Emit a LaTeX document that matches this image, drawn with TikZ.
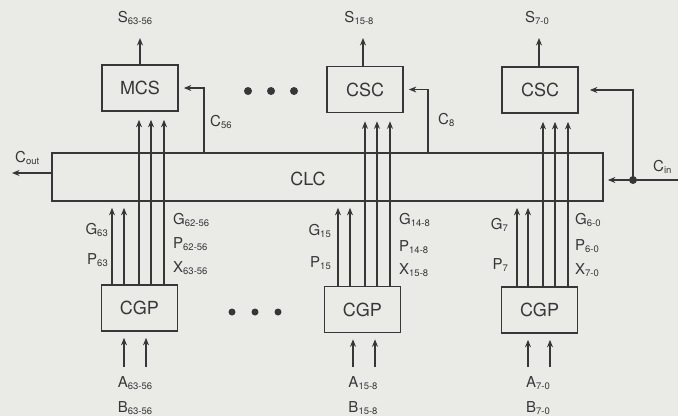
\documentclass[tikz,border=0pt]{standalone}
\usepackage{fontspec}
\setmainfont{TeX Gyre Heros}
\usetikzlibrary{arrows.meta}
\definecolor{bg}{RGB}{234,234,231}
\definecolor{ink}{RGB}{55,55,55}
\newcommand{\sig}[2]{#1\raisebox{-0.35ex}{\fontsize{9.5}{10}\selectfont #2}}
\begin{document}
\begin{tikzpicture}[x=1pt,y=-1pt,
  box/.style={draw=ink, line width=1.7pt, minimum width=76pt, minimum height=46pt, inner sep=0pt, font=\fontsize{18}{20}\selectfont, text=ink},
  arr/.style={draw=ink, line width=1.3pt, -{Stealth[length=7.5pt,width=6pt]}},
  lab/.style={inner sep=0pt, font=\fontsize{15}{17}\selectfont, text=ink},
  bigdot/.style={circle, fill=ink, inner sep=0pt, minimum size=8pt}]
\fill[bg] (0,0) rectangle (678,416);
\useasboundingbox (0,0) rectangle (678,416);
% boxes
\node[box] (mcs) at (140,88) {MCS};
\node[box] (csc1) at (365,89.5) {CSC};
\node[box] (csc2) at (540,90) {CSC};
\node[box, minimum width=551pt, minimum height=48pt] (clc) at (327.5,177) {};
\node[lab, font=\fontsize{18}{20}\selectfont] (clclab) at (308,179) {CLC};
\node[box] (cgp1) at (139.5,308) {CGP};
\node[box] (cgp2) at (362.5,309.5) {CGP};
\node[box] (cgp3) at (539.5,310) {CGP};
% dots
\node[bigdot] (t1) at (248,91) {};
\node[bigdot] (t2) at (271,91) {};
\node[bigdot] (t3) at (294,91) {};
\node[bigdot, minimum size=7pt] (b1) at (232,312) {};
\node[bigdot, minimum size=7pt] (b2) at (255,312) {};
\node[bigdot, minimum size=7pt] (b3) at (278,312) {};
% S outputs
\node[lab] (s1) at (135,18) {\sig{S}{63-56}};
\node[lab] (s2) at (359,18) {\sig{S}{15-8}};
\node[lab] (s3) at (537,18) {\sig{S}{7-0}};
\draw[arr] (mcs.north) -- (mcs.north |- 0,38);
\draw[arr] (363,0 |- csc1.north) -- (363,38);
\draw[arr] (539,0 |- csc2.north) -- (539,38);
% carries
\draw[arr, shorten >=5pt] (204,0 |- clc.north) |- (mcs.east);
\node[lab, anchor=west] (c56) at (210,122) {\sig{C}{56}};
\draw[arr, shorten >=5pt] (428,0 |- clc.north) |- (csc1.east);
\node[lab, anchor=west] (c8) at (438,120) {\sig{C}{8}};
\draw[arr] (clc.west |- 0,173) -- (12,173);
\node[lab, anchor=west] (cout) at (15,158) {\sig{C}{out}};
\coordinate (cin) at (678,180);
\node[bigdot] (cd) at (633,180) {};
\draw[arr, shorten >=4pt] (cin) -- (clc.east |- cin);
\draw[arr, shorten >=11pt] (cd.center) |- (csc2.east);
\node[lab, anchor=west] (cinl) at (653,167) {\sig{C}{in}};
% column 1 wires
\draw[arr, shorten >=6pt] (112,0 |- cgp1.north) -- (112,0 |- clc.south);
\draw[arr, shorten >=6pt] (124,0 |- cgp1.north) -- (124,0 |- clc.south);
\draw[arr, shorten >=8pt] (139,0 |- cgp1.north) -- (139,0 |- mcs.south);
\draw[arr, shorten >=8pt] (151,0 |- cgp1.north) -- (151,0 |- mcs.south);
\draw[arr, shorten >=8pt] (164,0 |- cgp1.north) -- (164,0 |- mcs.south);
% column 2 wires
\draw[arr, shorten >=6pt] (338,0 |- cgp2.north) -- (338,0 |- clc.south);
\draw[arr, shorten >=6pt] (350,0 |- cgp2.north) -- (350,0 |- clc.south);
\draw[arr, shorten >=8pt] (365,0 |- cgp2.north) -- (365,0 |- csc1.south);
\draw[arr, shorten >=8pt] (377,0 |- cgp2.north) -- (377,0 |- csc1.south);
\draw[arr, shorten >=8pt] (390,0 |- cgp2.north) -- (390,0 |- csc1.south);
% column 3 wires
\draw[arr, shorten >=6pt] (517,0 |- cgp3.north) -- (517,0 |- clc.south);
\draw[arr, shorten >=6pt] (528,0 |- cgp3.north) -- (528,0 |- clc.south);
\draw[arr, shorten >=8pt] (543,0 |- cgp3.north) -- (543,0 |- csc2.south);
\draw[arr, shorten >=8pt] (555,0 |- cgp3.north) -- (555,0 |- csc2.south);
\draw[arr, shorten >=8pt] (568,0 |- cgp3.north) -- (568,0 |- csc2.south);
% wire labels
\node[lab, anchor=east] (g63) at (108,230) {\sig{G}{63}};
\node[lab, anchor=east] (p63) at (108,260) {\sig{P}{63}};
\node[lab, anchor=west] (g6256) at (173,220) {\sig{G}{62-56}};
\node[lab, anchor=west] (p6256) at (173,244) {\sig{P}{62-56}};
\node[lab, anchor=west] (x6356) at (173,268) {\sig{X}{63-56}};
\node[lab, anchor=east] (g15) at (331,231) {\sig{G}{15}};
\node[lab, anchor=east] (p15) at (331,263) {\sig{P}{15}};
\node[lab, anchor=west] (g148) at (399,220) {\sig{G}{14-8}};
\node[lab, anchor=west] (p148) at (399,247) {\sig{P}{14-8}};
\node[lab, anchor=west] (x158) at (399,270) {\sig{X}{15-8}};
\node[lab, anchor=east] (g7) at (508,225) {\sig{G}{7}};
\node[lab, anchor=east] (p7) at (508,265) {\sig{P}{7}};
\node[lab, anchor=west] (g60) at (575,220) {\sig{G}{6-0}};
\node[lab, anchor=west] (p60) at (575,246) {\sig{P}{6-0}};
\node[lab, anchor=west] (x70) at (575,270) {\sig{X}{7-0}};
% inputs
\draw[arr, shorten >=6pt] (124,367) -- (124,0 |- cgp1.south);
\draw[arr, shorten >=6pt] (146,367) -- (146,0 |- cgp1.south);
\draw[arr, shorten >=6pt] (353,367) -- (353,0 |- cgp2.south);
\draw[arr, shorten >=6pt] (375,367) -- (375,0 |- cgp2.south);
\draw[arr, shorten >=6pt] (528,367) -- (528,0 |- cgp3.south);
\draw[arr, shorten >=6pt] (550,367) -- (550,0 |- cgp3.south);
\node[lab] (a1) at (135,383) {\sig{A}{63-56}};
\node[lab] (bb1) at (135,408) {\sig{B}{63-56}};
\node[lab] (a2) at (363,383) {\sig{A}{15-8}};
\node[lab] (bb2) at (363,408) {\sig{B}{15-8}};
\node[lab] (a3) at (538,383) {\sig{A}{7-0}};
\node[lab] (bb3) at (538,408) {\sig{B}{7-0}};
\end{tikzpicture}
\end{document}
